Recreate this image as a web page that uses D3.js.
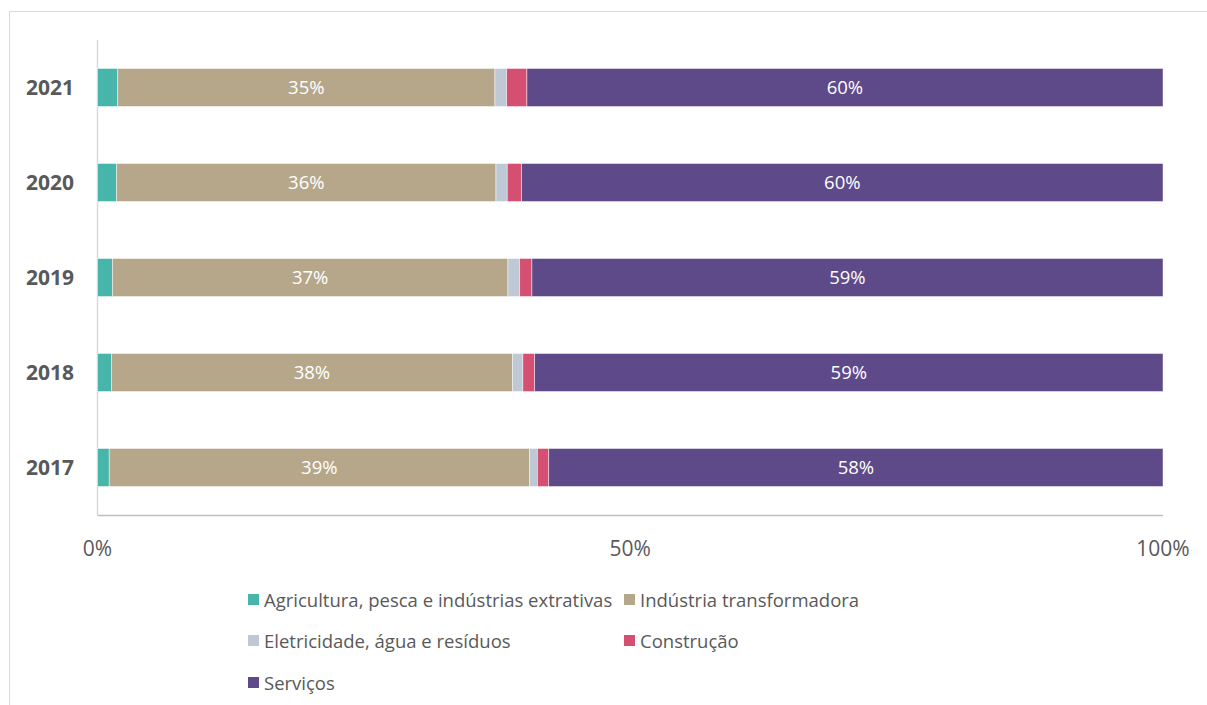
<!DOCTYPE html>
<html><head><meta charset="utf-8">
<script src="https://cdn.jsdelivr.net/npm/d3@7"></script>
<style>body{margin:0;background:#fff}svg{display:block}text{font-family:"Open Sans",sans-serif}</style>
</head><body><svg id="c" width="1207" height="705"></svg>
<script>
const years = ["2017","2018","2019","2020","2021"];
const agri   = [1.1, 1.3, 1.4, 1.8, 1.9];
const ind    = [39.4, 37.6, 37.1, 35.6, 35.4];
const elet   = [0.75, 0.97, 1.1, 1.06, 1.1];
const constr = [1.06, 1.1, 1.15, 1.35, 1.9];
const serv   = [57.6, 58.9, 59.2, 60.2, 59.7];
const seriesNames = ["Agricultura, pesca e indústrias extrativas","Indústria transformadora","Eletricidade, água e resíduos","Construção","Serviços"];
const seriesKeys = ["agri","ind","elet","constr","serv"];
const colors = ["#48b5aa","#b6a78b","#bfc8d5","#d54f73","#5e4a89"];
const labelled = ["ind","serv"];
const xTicks = [0, 0.5, 1];
const xTickLabels = ["0%","50%","100%"];

const rows = years.map((y,i)=>({year:y, agri:agri[i], ind:ind[i], elet:elet[i], constr:constr[i], serv:serv[i]}));
const stack = d3.stack().keys(seriesKeys).offset(d3.stackOffsetExpand)(rows);

const svg = d3.select("#c");
// frame
svg.append("path").attr("d","M9.5,705 V11.5 H1207").attr("fill","none").attr("stroke","#d9d9d9").attr("stroke-width",1);

const x = d3.scaleLinear().domain([0,1]).range([97.5,1163]);
const y = d3.scaleBand().domain(years.slice().reverse()).range([40,515]).paddingInner(0.6).paddingOuter(0.3);

// axes lines
svg.append("line").attr("x1",97.5).attr("x2",97.5).attr("y1",40).attr("y2",515).attr("stroke","#d9d9d9").attr("stroke-width",1.5);
svg.append("line").attr("x1",97.5).attr("x2",1163).attr("y1",515.5).attr("y2",515.5).attr("stroke","#bfbfbf").attr("stroke-width",1.5);

const g = svg.append("g");
stack.forEach((s,si)=>{
  g.selectAll(null).data(s).enter().append("rect")
    .attr("x",d=>x(d[0])).attr("width",d=>x(d[1])-x(d[0]))
    .attr("y",d=>y(d.data.year)).attr("height",y.bandwidth())
    .attr("fill",colors[si]).attr("stroke","#ffffff").attr("stroke-opacity",0.6).attr("stroke-width",0.75);
  if(labelled.includes(s.key)){
    g.selectAll(null).data(s).enter().append("text")
      .attr("x",d=>(x(d[0])+x(d[1]))/2).attr("y",d=>y(d.data.year)+y.bandwidth()/2)
      .attr("dy","0.36em").attr("text-anchor","middle").attr("fill","#ffffff").attr("font-size",18.5)
      .text(d=>Math.round(d.data[s.key])+"%");
  }
});

// y labels
svg.selectAll(null).data(years).enter().append("text")
  .attr("x",74).attr("y",d=>y(d)+y.bandwidth()/2).attr("dy","0.36em").attr("text-anchor","end")
  .attr("font-size",21).attr("font-weight","bold").attr("fill","#595959").text(d=>d);

// x tick labels
svg.selectAll(null).data(xTicks).enter().append("text")
  .attr("x",d=>x(d)).attr("y",548).attr("dy","0.36em").attr("text-anchor","middle")
  .attr("font-size",21).attr("fill","#595959").text((d,i)=>xTickLabels[i]);

// legend
const legPos = [[248,600],[624,600],[248,641],[624,641],[248,683]];
seriesNames.forEach((n,i)=>{
  const [lx,ly]=legPos[i];
  svg.append("rect").attr("x",lx).attr("y",ly-6).attr("width",11).attr("height",11).attr("fill",colors[i]);
  svg.append("text").attr("x",lx+16).attr("y",ly).attr("dy","0.36em").attr("font-size",18.5).attr("fill","#595959").text(n);
});
</script></body></html>
